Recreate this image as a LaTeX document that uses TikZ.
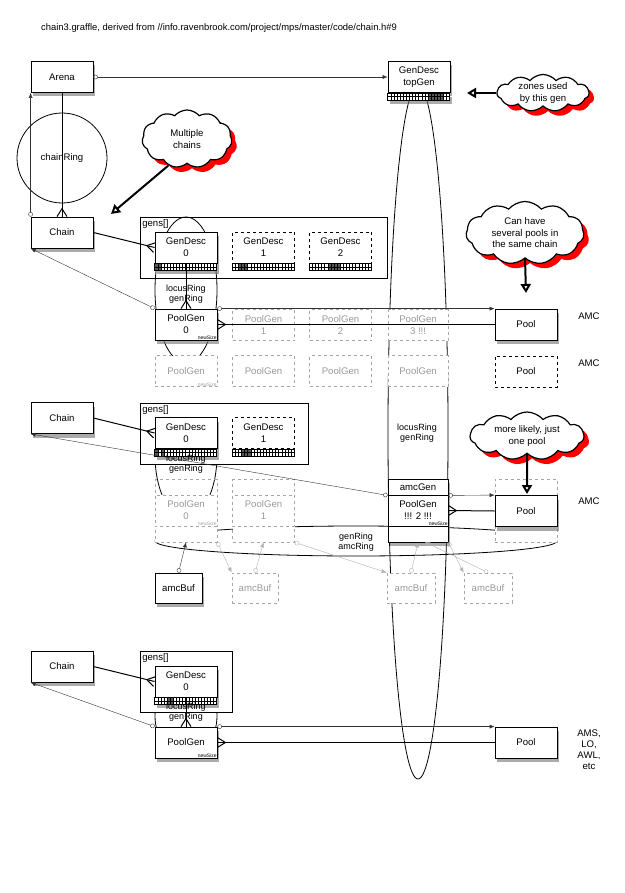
\documentclass[tikz,border=0pt]{standalone}
\usepackage{fontspec}
\setmainfont{Liberation Sans}
\usetikzlibrary{positioning, calc, arrows.meta, shadows, shapes.symbols}

% thick line with a crow's foot at its second end
\newcommand{\crowfoot}[2]{%
  \draw[crow] (#1) -- (#2);
  \draw[crow] ($(#2)!5pt!90:(#1)$) -- ($(#2)!8pt!(#1)$) -- ($(#2)!5pt!-90:(#1)$);}

% zone strip under a GenDesc box
\newcommand{\zones}[3][]{%
  \begin{scope}[shift={(#2.south west)}]
    \fill[white,#1] (0,0) rectangle (62,7);
    \foreach \cl in {#3} \fill[black!65] (3.1*\cl,0) rectangle ++(3.1,7);
    \foreach \cl in {1,...,19} \draw[line width=.3pt] (3.1*\cl,0) -- ++(0,7);
    \draw[line width=.3pt] (0,3.5) -- (62,3.5);
    \draw[line width=.6pt] (0,0) rectangle (62,7);
  \end{scope}}

\begin{document}
\begin{tikzpicture}[x=1pt, y=-1pt,
  every node/.style={inner sep=1pt, align=center, font=\fontsize{9.6}{12}\selectfont},
  softshadow/.style={drop shadow={fill=black!55, opacity=.6, shadow xshift=2pt, shadow yshift=-4pt}},
  box/.style={draw, fill=white, line width=.8pt, minimum width=62pt, minimum height=31pt, softshadow},
  dbox/.style={draw, dashed, fill=white, line width=.8pt, minimum width=62pt, minimum height=31pt},
  ghost/.style={draw=black!35, dashed, fill=white, text=black!40, line width=.8pt, minimum width=62pt, minimum height=31pt},
  part/.style={draw, fill=white, line width=.8pt, minimum width=60pt, minimum height=16pt},
  gensbox/.style={draw, fill=white, line width=.8pt, label={[anchor=north west, inner sep=2.5pt]north west:gens[]}},
  smalltxt/.style={font=\fontsize{5}{5}\selectfont, inner sep=.5pt, anchor=south east},
  ringlbl/.style={font=\fontsize{9}{10}\selectfont},
  cloudtext/.style={font=\fontsize{9.6}{11.5}\selectfont},
  thought/.style={cloud, cloud puffs=11, cloud puff arc=100, draw, line width=1.2pt, fill=white, inner sep=0pt,
    drop shadow={fill=red, opacity=1, shadow xshift=5pt, shadow yshift=-5pt}},
  hint/.style={line width=2pt, -{Triangle[open, length=9pt, width=10pt]}},
  link/.style={line width=.4pt, black!80, {Circle[open, length=4.5pt, width=4.5pt]}-{Latex[length=5pt, width=4pt]}},
  glink/.style={link, black!30},
  crow/.style={line width=1pt},
  ring/.style={line width=.8pt}]
\useasboundingbox (0,0) rectangle (624,893);
\fill[white] (0,0) rectangle (624,893);

\node[anchor=west, font=\fontsize{9.4}{11}\selectfont] (title) at (40,28)
  {chain3.graffle, derived from //info.ravenbrook.com/project/mps/master/code/chain.h\#9};

% rings, behind the boxes
\draw[ring] (418,432) ellipse [x radius=30pt, y radius=347pt];
\draw[ring] (186,290) ellipse [x radius=31pt, y radius=73pt];
\begin{scope}
  \clip (130,403) rectangle (240,560);
  \draw[ring] (186,455) ellipse [x radius=31pt, y radius=63pt];
\end{scope}
\draw[ring] (186,716) ellipse [x radius=31pt, y radius=40pt];
\draw[ring] (356,541) ellipse [x radius=201pt, y radius=15pt];
\draw[ring] (62,158) circle [radius=45pt];
\node (chainring) at (62,158) {chainRing};

% top
\node[box] (arena) at (62,77) {Arena};
\node[box] (topgen) at (419,77) {GenDesc\\topGen};
\zones[softshadow]{topgen}{13,14,15,16,17}
\node[thought, minimum width=92pt, minimum height=37pt,
  label={[cloudtext]center:{zones used\\by this gen}}] (zonecloud) at (543,93) {};
\coordinate (zonetip) at (467,93);
\draw[hint] (zonecloud.west) -- (zonetip);

% first chain
\node[box] (chain1) at (62,232.5) {Chain};
\node[thought, minimum width=90pt, minimum height=58pt,
  label={[cloudtext]center:{Multiple\\chains}}] (multicloud) at (187,139) {};
\coordinate (multitip) at (111,214);
\draw[hint] (multicloud.235) -- (multitip);
\node[gensbox, fill=none, minimum width=247pt, minimum height=61pt] (gens1) at (263.5,247.5) {};
\node[box] (gd1a) at (186,247.5) {GenDesc\\0};
\zones[softshadow]{gd1a}{0,1}
\node[dbox] (gd1b) at (263.5,247.5) {GenDesc\\1};
\zones{gd1b}{2,3,4}
\node[dbox] (gd1c) at (340.5,247.5) {GenDesc\\2};
\zones{gd1c}{6,7,8,9}
\node[ghost] (pg1b) at (263.5,325) {PoolGen\\1};
\node[ghost] (pg1c) at (340.5,325) {PoolGen\\2};
\node[ghost, minimum width=60pt] (pg1d) at (418,325) {PoolGen\\3 !!!};
\node[ghost] (pgx1) at (186,371) {PoolGen};
\node[smalltxt, text=black!35] (nsx1) at (pgx1.south east) {newSize};
\node[ghost] (pgx2) at (263.5,371) {PoolGen};
\node[ghost] (pgx3) at (340.5,371) {PoolGen};
\node[ghost, minimum width=60pt] (pgx4) at (418,371) {PoolGen};
\node[box] (pg1a) at (186,324.5) {PoolGen\\0};
\node[smalltxt] (ns1) at (pg1a.south east) {newSize};
\node[ringlbl] (lr1) at (186,294) {locusRing\\genRing};
\node[box] (pool1) at (526,324.5) {Pool};
\node[dbox] (poolx) at (526,371.5) {Pool};
\node (amc1) at (589,316) {AMC};
\node (amc2) at (589,363) {AMC};
\node[thought, minimum width=118pt, minimum height=63pt,
  label={[cloudtext]center:{Can have\\several pools in\\the same chain}}] (severalcloud) at (525,233) {};
\coordinate (severaltip) at (526,293);
\draw[hint] (severalcloud.south) -- (severaltip);

\draw[link] (arena.east) -- (topgen.west);
\draw[link] (chain1.north west) -- (arena.south west);
\crowfoot{arena.south}{chain1.north}
\crowfoot{chain1.east}{gd1a.west}
\crowfoot{gd1a.south}{pg1a.north}
\draw[link] (pg1a.north west) -- (chain1.south west);
\draw[link] (pg1a.north east) -- (pool1.north west);
\crowfoot{pool1.west}{pg1a.east}

% second chain
\node[box] (chain2) at (62,418) {Chain};
\node[gensbox, minimum width=168pt, minimum height=61pt] (gens2) at (224,433.5) {};
\node[box] (gd2a) at (186,433) {GenDesc\\0};
\zones[softshadow]{gd2a}{0,2}
\node[dbox] (gd2b) at (263.5,433) {GenDesc\\1};
\zones{gd2b}{3,4,5}
\node[ringlbl] (lr2) at (186,464.5) {locusRing\\genRing};
\node[ghost, fill=none, minimum height=16pt] (amx1) at (186,487.5) {};
\node[ghost] (pgy1) at (186,510.5) {PoolGen\\0};
\node[smalltxt, text=black!35] (nsy1) at (pgy1.south east) {newSize};
\node[ghost, minimum height=16pt] (tlx1) at (186,534) {};
\node[ghost, fill=none, minimum height=16pt] (amx2) at (263.5,487.5) {};
\node[ghost] (pgy2) at (263.5,510.5) {PoolGen\\1};
\node[ghost, minimum height=16pt] (tlx2) at (263.5,534) {};
\fill[white, softshadow] (388,479) rectangle (448,542);
\node[part] (amcgen) at (418,487) {amcGen};
\node[part, minimum height=31pt] (pg2) at (418,510.5) {PoolGen\\!!! 2 !!!};
\node[smalltxt] (ns2) at (pg2.south east) {newSize};
\node[part] (pgtail) at (418,534) {};
\node[ringlbl] (lr3) at (417,433) {locusRing\\genRing};
\node[ringlbl] (ga) at (356,542.5) {genRing\\amcRing};
\node[ghost, minimum height=63pt] (poolg) at (526,510.5) {};
\node[box] (pool2) at (526,511) {Pool};
\node (amc3) at (589,501) {AMC};
\node[thought, minimum width=114pt, minimum height=48pt,
  label={[cloudtext]center:{more likely, just\\one pool}}] (likelycloud) at (527,436) {};
\coordinate (likelytip) at (527,494);
\draw[hint] (likelycloud.south) -- (likelytip);
\node[box, minimum width=47pt, minimum height=30pt] (buf1) at (178.5,588) {amcBuf};
\node[ghost, minimum width=46pt, minimum height=30pt] (buf2) at (255,588) {amcBuf};
\node[ghost, minimum width=48pt, minimum height=30pt] (buf3) at (411,588) {amcBuf};
\node[ghost, minimum width=48pt, minimum height=30pt] (buf4) at (488,588) {amcBuf};
\coordinate (tailr) at (425,542);

\crowfoot{chain2.east}{gd2a.west}
\draw[link] (amcgen.south west) -- (chain2.south west);
\draw[link] (amcgen.south east) -- (pool2.north west);
\crowfoot{pool2.west}{pg2.east}
\draw[link] (buf1.north) -- (tlx1.south);
\draw[glink] (buf2.north) -- (tlx2.south);
\draw[glink] (tlx1.south east) -- (buf2.north west);
\draw[glink] (buf3.north) -- (pgtail.south);
\draw[glink] (tlx2.south east) -- (buf3.north west);
\draw[glink] (buf4.north) -- (tailr);
\draw[glink] (pgtail.south east) -- (buf4.north west);

% third chain
\node[box] (chain3) at (62,666.5) {Chain};
\node[gensbox, minimum width=92pt, minimum height=61pt] (gens3) at (186,681.5) {};
\node[box] (gd3a) at (186,681.5) {GenDesc\\0};
\zones[softshadow]{gd3a}{4,5}
\node[ringlbl] (lr4) at (186,712.5) {locusRing\\genRing};
\node[box] (pg3) at (186,742.5) {PoolGen};
\node[smalltxt] (ns3) at (pg3.south east) {newSize};
\node[box] (pool3) at (526,742.5) {Pool};
\node[font=\fontsize{9.6}{11}\selectfont] (amsetc) at (589,749.5) {AMS,\\LO,\\AWL,\\etc};

\crowfoot{chain3.east}{gd3a.west}
\crowfoot{gd3a.south}{pg3.north}
\draw[link] (pg3.north west) -- (chain3.south west);
\draw[link] (pg3.north east) -- (pool3.north west);
\crowfoot{pool3.west}{pg3.east}
\end{tikzpicture}
\end{document}
